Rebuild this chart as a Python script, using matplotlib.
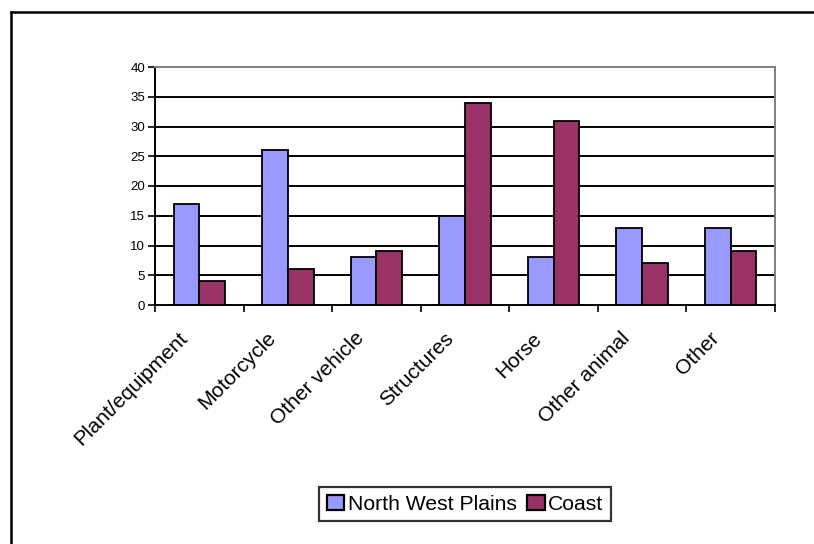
import matplotlib
matplotlib.use("Agg")
import matplotlib.pyplot as plt
from matplotlib.lines import Line2D
from matplotlib.patches import Patch
import numpy as np

plt.rcParams['font.family'] = ['Liberation Sans', 'DejaVu Sans']

categories = ["Plant/equipment", "Motorcycle", "Other vehicle", "Structures",
              "Horse", "Other animal", "Other"]
north_west_plains = [17, 26, 8, 15, 8, 13, 13]
coast = [4, 6, 9, 34, 31, 7, 9]
series_names = ["North West Plains", "Coast"]
y_ticks = [0, 5, 10, 15, 20, 25, 30, 35, 40]

blue = "#9999FF"
plum = "#993366"

W, H = 814, 544
fig = plt.figure(figsize=(W / 100, H / 100), dpi=100)
fig.patch.set_facecolor("white")

# outer chart frame (left and top edges visible)
fig.add_artist(Line2D([10.5 / W, 10.5 / W], [0, 1 - 12 / H], transform=fig.transFigure,
                      color="black", lw=1.8))
fig.add_artist(Line2D([10.5 / W, 1], [1 - 12 / H, 1 - 12 / H], transform=fig.transFigure,
                      color="black", lw=1.8))

left, right, top, bottom = 155, 775, 67, 305
ax = fig.add_axes([left / W, (H - bottom) / H, (right - left) / W, (bottom - top) / H])

x = np.arange(len(categories))
bw = 0.29
ax.bar(x - bw / 2, north_west_plains, bw, color=blue, edgecolor="black", lw=1.3, zorder=3)
ax.bar(x + bw / 2, coast, bw, color=plum, edgecolor="black", lw=1.3, zorder=3)

ax.set_xlim(-0.5, len(categories) - 0.5)
ax.set_ylim(0, 40)
ax.set_yticks(y_ticks)
ax.set_yticklabels([str(v) for v in y_ticks], fontsize=9.5)

for v in y_ticks[1:-1]:
    ax.axhline(v, color="black", lw=1.4, zorder=1)

ax.spines["top"].set_color("#808080")
ax.spines["right"].set_color("#808080")
for s in ("top", "right", "left", "bottom"):
    ax.spines[s].set_linewidth(1.4)
ax.spines["bottom"].set_zorder(4)

ax.tick_params(axis="y", direction="out", length=5, width=1.2, pad=2)

# category ticks sit between groups
ax.set_xticks(np.arange(len(categories) + 1) - 0.5)
ax.set_xticklabels([])
ax.tick_params(axis="x", direction="out", length=5, width=1.2)

for i, name in enumerate(categories):
    ax.annotate(name, xy=(i, 0), xycoords=("data", "axes fraction"),
                xytext=(-15.5, -17), textcoords="offset points",
                rotation=45, ha="right", va="top", rotation_mode="anchor",
                fontsize=15)

handles = [Patch(facecolor=blue, edgecolor="black", lw=1.6),
           Patch(facecolor=plum, edgecolor="black", lw=1.6)]
leg = fig.legend(handles, series_names, loc="lower center",
                 bbox_to_anchor=(465 / W, 1 - 521 / H),
                 ncol=2, frameon=True, fancybox=False, fontsize=15.2,
                 handlelength=0.85, handleheight=0.75, handletextpad=0.15,
                 columnspacing=0.5, borderpad=0.35, borderaxespad=0)
leg.get_frame().set_edgecolor("black")
leg.get_frame().set_linewidth(1.6)

fig.savefig("out.png", dpi=100, facecolor="white")
